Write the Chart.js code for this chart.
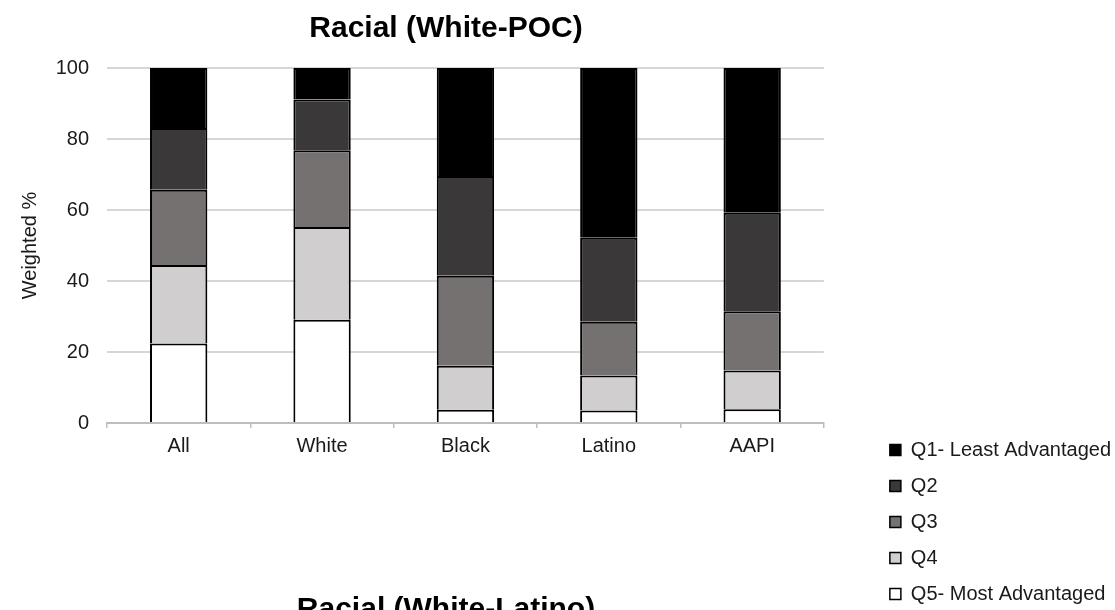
<!DOCTYPE html>
<html>
<head>
<meta charset="utf-8">
<script src="https://cdn.jsdelivr.net/npm/chart.js@4/dist/chart.umd.min.js"></script>
<style>
  html, body { margin: 0; padding: 0; background: #ffffff; overflow: hidden; }
  body { width: 1115px; height: 610px; position: relative; font-family: "Liberation Sans", Arial, sans-serif; }
  .title { position: absolute; left: 0; width: 892px; text-align: center; font-weight: bold; font-size: 30px; line-height: 30px; color: #000; }
  #t1 { top: 12px; }
  #t2 { top: 593px; }
  #wrap { position: absolute; left: 0; top: 0; width: 1121px; height: 620px; }
</style>
</head>
<body>
<div id="wrap"><canvas id="chart" width="1121" height="620"></canvas></div>
<div class="title" id="t1">Racial (White-POC)</div>
<div class="title" id="t2">Racial (White-Latino)</div>
<script>
// Groups along the x axis
const categories = ['All', 'White', 'Black', 'Latino', 'AAPI'];

// Weighted share (%) of each advantage quintile within each group
const q1 = [16.9, 8.9, 30.4, 47.8, 40.8];   // Q1- Least Advantaged
const q2 = [17.4, 14.3, 28.1, 23.7, 27.7];  // Q2
const q3 = [21.2, 21.6, 25.4, 15.1, 16.7];  // Q3
const q4 = [22.1, 26.1, 12.4, 9.9, 10.9];   // Q4
const q5 = [22.4, 29.1, 3.7, 3.5, 3.9];     // Q5- Most Advantaged

const seriesNames = ['Q5- Most Advantaged', 'Q4', 'Q3', 'Q2', 'Q1- Least Advantaged'];
const seriesColors = ['#ffffff', '#d0cece', '#767171', '#3a3838', '#000000'];
const yTicks = [0, 20, 40, 60, 80, 100];

const FONT = '"Liberation Sans", Arial, sans-serif';
const TEXT = '#1a1a1a';

// Bottom-up stacking order: Q5 sits on the axis, Q1 on top
const values = [q5, q4, q3, q2, q1];
const datasets = values.map((v, i) => ({
  label: seriesNames[i],
  data: v,
  backgroundColor: seriesColors[i],
  borderColor: '#000000',
  borderWidth: { top: 2, left: 2, right: 2, bottom: 0 },
  borderSkipped: false,
  barPercentage: 0.4,
  categoryPercentage: 1.0,
  stack: 'all'
}));

new Chart(document.getElementById('chart'), {
  type: 'bar',
  data: { labels: categories, datasets },
  options: {
    responsive: false,
    animation: false,
    devicePixelRatio: 1,
    layout: { padding: { top: 68, left: 0, right: 0, bottom: 0 } },
    plugins: {
      title: { display: false },
      tooltip: { enabled: false },
      legend: {
        position: 'right',
        align: 'end',
        reverse: true,
        maxWidth: 320,
        labels: {
          boxWidth: 11,
          boxHeight: 11,
          padding: 16,
          color: TEXT,
          font: { family: FONT, size: 20 }
        }
      }
    },
    scales: {
      x: {
        stacked: true,
        grid: {
          display: true,
          offset: true,
          drawOnChartArea: false,
          drawTicks: true,
          tickLength: 5,
          color: '#bdbdbd',
          lineWidth: 1.5
        },
        border: { display: true, color: '#bdbdbd', width: 2 },
        ticks: { color: TEXT, font: { family: FONT, size: 20 }, padding: 6, maxRotation: 0 },
        afterFit(scale) { scale.height = 620 - 423; }
      },
      y: {
        stacked: true,
        min: 0,
        max: 100,
        afterBuildTicks(scale) { scale.ticks = yTicks.map(v => ({ value: v })); },
        grid: { color: '#d6d6d6', lineWidth: 2, drawTicks: false },
        border: { display: false },
        ticks: { color: TEXT, font: { family: FONT, size: 20 }, padding: 18 },
        title: {
          display: true,
          text: 'Weighted %',
          color: TEXT,
          font: { family: FONT, size: 20 },
          padding: { top: 18, bottom: 0 }
        },
        afterFit(scale) { scale.width = 107; }
      },
      // empty spacer column between the plot and the legend
      gap: {
        type: 'linear',
        position: 'right',
        display: true,
        grid: { display: false },
        border: { display: false },
        ticks: { display: false },
        afterFit(scale) { scale.width = 50; }
      }
    }
  }
});
</script>
</body>
</html>
